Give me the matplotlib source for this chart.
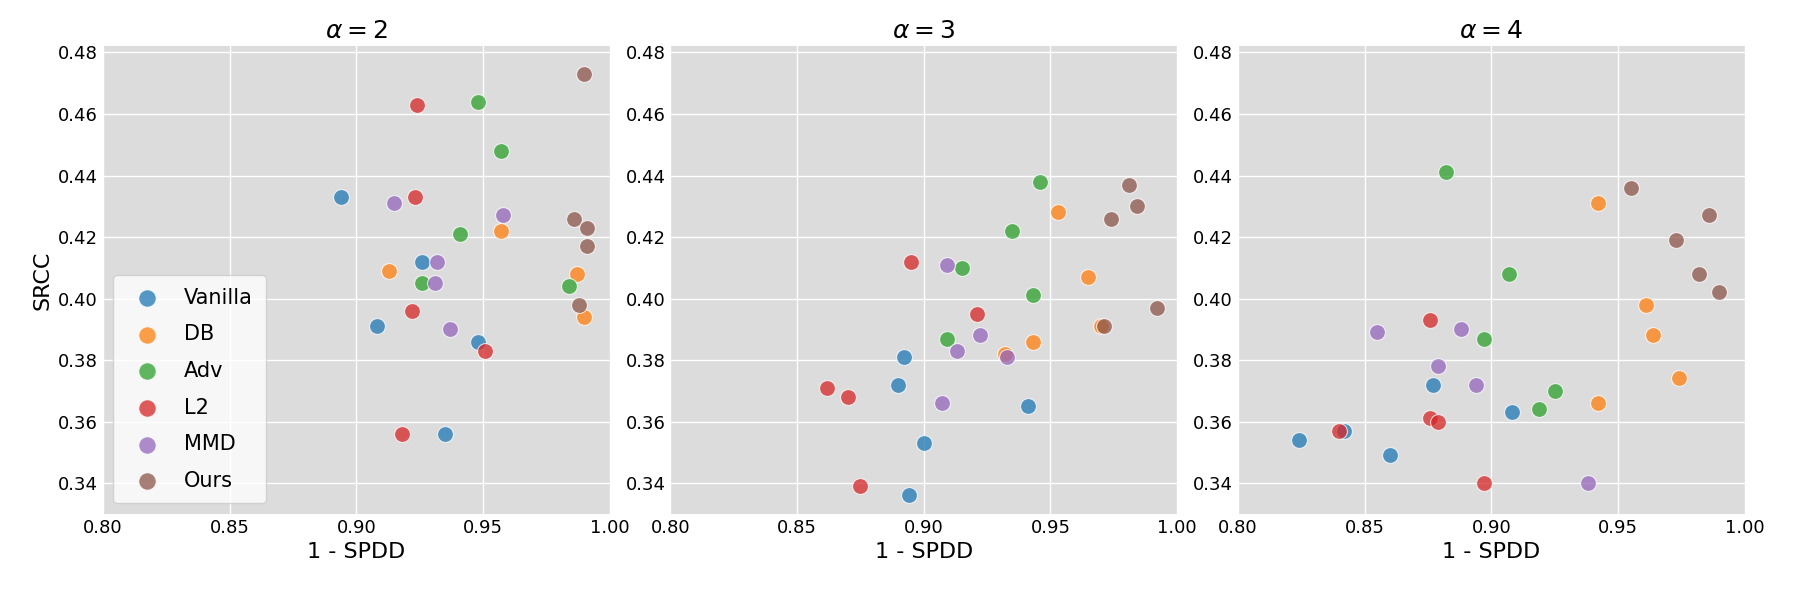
import matplotlib
matplotlib.use("Agg")
import matplotlib.pyplot as plt

methods = ["Vanilla", "DB", "Adv", "L2", "MMD", "Ours"]
colors = ["#1f77b4", "#ff7f0e", "#2ca02c", "#d62728", "#9467bd", "#8c564b"]
alphas = [2, 3, 4]

# (1 - SPDD, SRCC) per method for each alpha
x_a2 = {
    "Vanilla": [0.894, 0.926, 0.908, 0.948, 0.935],
    "DB": [0.913, 0.957, 0.987, 0.990],
    "Adv": [0.948, 0.957, 0.941, 0.926, 0.984],
    "L2": [0.924, 0.923, 0.922, 0.951, 0.918],
    "MMD": [0.915, 0.958, 0.932, 0.931, 0.937],
    "Ours": [0.990, 0.986, 0.991, 0.991, 0.988],
}
y_a2 = {
    "Vanilla": [0.433, 0.412, 0.391, 0.386, 0.356],
    "DB": [0.409, 0.422, 0.408, 0.394],
    "Adv": [0.464, 0.448, 0.421, 0.405, 0.404],
    "L2": [0.463, 0.433, 0.396, 0.383, 0.356],
    "MMD": [0.431, 0.427, 0.412, 0.405, 0.390],
    "Ours": [0.473, 0.426, 0.423, 0.417, 0.398],
}
x_a3 = {
    "Vanilla": [0.892, 0.890, 0.941, 0.900, 0.894],
    "DB": [0.953, 0.965, 0.943, 0.932, 0.970],
    "Adv": [0.946, 0.935, 0.915, 0.943, 0.909],
    "L2": [0.895, 0.921, 0.862, 0.870, 0.875],
    "MMD": [0.909, 0.922, 0.913, 0.933, 0.907],
    "Ours": [0.981, 0.984, 0.974, 0.971, 0.992],
}
y_a3 = {
    "Vanilla": [0.381, 0.372, 0.365, 0.353, 0.336],
    "DB": [0.428, 0.407, 0.386, 0.382, 0.391],
    "Adv": [0.438, 0.422, 0.410, 0.401, 0.387],
    "L2": [0.412, 0.395, 0.371, 0.368, 0.339],
    "MMD": [0.411, 0.388, 0.383, 0.381, 0.366],
    "Ours": [0.437, 0.430, 0.426, 0.391, 0.397],
}
x_a4 = {
    "Vanilla": [0.877, 0.908, 0.842, 0.824, 0.860],
    "DB": [0.942, 0.961, 0.964, 0.974, 0.942],
    "Adv": [0.882, 0.907, 0.897, 0.925, 0.919],
    "L2": [0.876, 0.876, 0.879, 0.840, 0.897],
    "MMD": [0.855, 0.888, 0.879, 0.894, 0.938],
    "Ours": [0.955, 0.986, 0.973, 0.982, 0.990],
}
y_a4 = {
    "Vanilla": [0.372, 0.363, 0.357, 0.354, 0.349],
    "DB": [0.431, 0.398, 0.388, 0.374, 0.366],
    "Adv": [0.441, 0.408, 0.387, 0.370, 0.364],
    "L2": [0.393, 0.361, 0.360, 0.357, 0.340],
    "MMD": [0.389, 0.390, 0.378, 0.372, 0.340],
    "Ours": [0.436, 0.427, 0.419, 0.408, 0.402],
}
xs = [x_a2, x_a3, x_a4]
ys = [y_a2, y_a3, y_a4]

fig, axes = plt.subplots(1, 3, figsize=(18.06, 5.94), dpi=100)
for i, ax in enumerate(axes):
    ax.set_facecolor("#dcdcdc")
    ax.set_axisbelow(True)
    ax.grid(color="white", linewidth=1)
    for s in ax.spines.values():
        s.set_visible(False)
    for m, c in zip(methods, colors):
        ax.scatter(xs[i][m], ys[i][m], s=130, color=c, alpha=0.75,
                   edgecolors="white", linewidths=0.8, label=m)
    ax.set_xlim(0.80, 1.00)
    ax.set_ylim(0.330, 0.482)
    ax.set_xticks([0.80, 0.85, 0.90, 0.95, 1.00])
    ax.set_yticks([0.34, 0.36, 0.38, 0.40, 0.42, 0.44, 0.46, 0.48])
    ax.tick_params(labelsize=13, length=0)
    ax.set_xlabel("1 - SPDD", fontsize=16)
    ax.set_title(r"$\alpha = %d$" % alphas[i], fontsize=18)
axes[0].set_ylabel("SRCC", fontsize=16)
axes[0].legend(loc="lower left", fontsize=15, markerscale=1.1, labelspacing=0.8,
               borderpad=0.6, framealpha=0.8)

plt.subplots_adjust(left=0.057, right=0.966, top=0.922, bottom=0.135, wspace=0.12)
plt.savefig("out.png")
